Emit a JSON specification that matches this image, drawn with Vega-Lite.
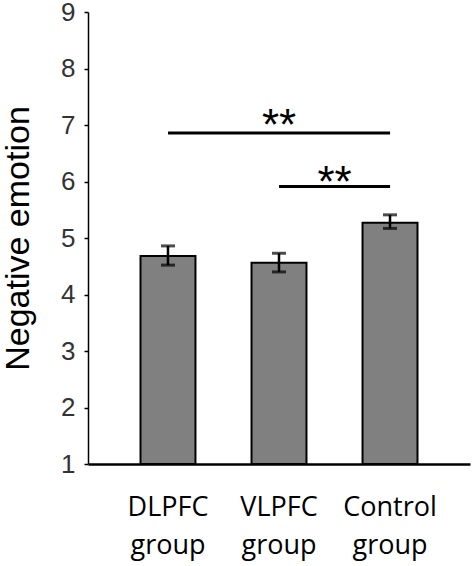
{
  "$schema": "https://vega.github.io/schema/vega-lite/v6.json",
  "width": 382,
  "height": 452,
  "autosize": {"type": "none"},
  "padding": {"left": 88, "top": 12, "right": 5, "bottom": 102},
  "background": "white",
  "config": {"view": {"stroke": null}},
  "datasets": {
    "bars": [
      {"group": "DLPFC group", "mean": 4.68, "lo": 4.52, "hi": 4.86},
      {"group": "VLPFC group", "mean": 4.56, "lo": 4.40, "hi": 4.73},
      {"group": "Control group", "mean": 5.27, "lo": 5.17, "hi": 5.41}
    ],
    "sig": [
      {"from": 1, "to": 3, "mid": 2, "y": 6.86, "ty": 6.73, "label": "**"},
      {"from": 2, "to": 3, "mid": 2.5, "y": 5.91, "ty": 5.73, "label": "**"}
    ]
  },
  "resolve": {"scale": {"x": "independent"}, "axis": {"x": "independent"}},
  "layer": [
    {
      "data": {"name": "bars"},
      "encoding": {
        "x": {
          "field": "group", "type": "nominal", "sort": null,
          "scale": {"paddingInner": 0.505, "paddingOuter": 0.473},
          "axis": {
            "title": null, "labelAngle": 0, "ticks": false,
            "domainColor": "black", "domainWidth": 2.5,
            "labelFont": "Open Sans", "labelFontSize": 27, "labelColor": "#000",
            "labelLineHeight": 38, "labelPadding": 30, "labelBaseline": "top",
            "labelExpr": "split(datum.label, ' ')"
          }
        }
      },
      "layer": [
        {
          "mark": {"type": "bar", "fill": "#808080", "stroke": "black", "strokeWidth": 2},
          "encoding": {
            "y": {
              "field": "mean", "type": "quantitative",
              "scale": {"domain": [1, 9], "zero": false, "nice": false},
              "axis": {
                "values": [1, 2, 3, 4, 5, 6, 7, 8, 9], "format": "d",
                "title": "Negative emotion", "grid": false,
                "domainColor": "black", "domainWidth": 1.5,
                "tickColor": "black", "tickWidth": 1.5, "tickSize": 4,
                "labelFont": "Liberation Sans", "labelFontSize": 26, "labelColor": "#333",
                "labelPadding": 9,
                "titleFont": "Liberation Sans", "titleFontSize": 34, "titleFontWeight": "normal",
                "titleColor": "black", "titlePadding": 25
              }
            },
            "y2": {"datum": 1}
          }
        },
        {
          "mark": {"type": "rule", "color": "black", "strokeWidth": 2.5},
          "encoding": {
            "y": {"field": "lo", "type": "quantitative"},
            "y2": {"field": "hi"}
          }
        },
        {
          "mark": {"type": "tick", "color": "black", "size": 14, "thickness": 3},
          "encoding": {"y": {"field": "lo", "type": "quantitative"}}
        },
        {
          "mark": {"type": "tick", "color": "black", "size": 14, "thickness": 3},
          "encoding": {"y": {"field": "hi", "type": "quantitative"}}
        }
      ]
    },
    {
      "data": {"name": "sig"},
      "layer": [
        {
          "mark": {"type": "rule", "color": "black", "strokeWidth": 3},
          "encoding": {
            "x": {"field": "from", "type": "quantitative", "scale": {"domain": [0.279, 3.72], "nice": false, "zero": false}, "axis": null},
            "x2": {"field": "to"},
            "y": {"field": "y", "type": "quantitative"}
          }
        },
        {
          "mark": {"type": "text", "font": "Liberation Sans", "fontSize": 44, "baseline": "alphabetic", "align": "center", "color": "black"},
          "encoding": {
            "x": {"field": "mid", "type": "quantitative"},
            "y": {"field": "ty", "type": "quantitative"},
            "text": {"field": "label"}
          }
        }
      ]
    }
  ]
}
